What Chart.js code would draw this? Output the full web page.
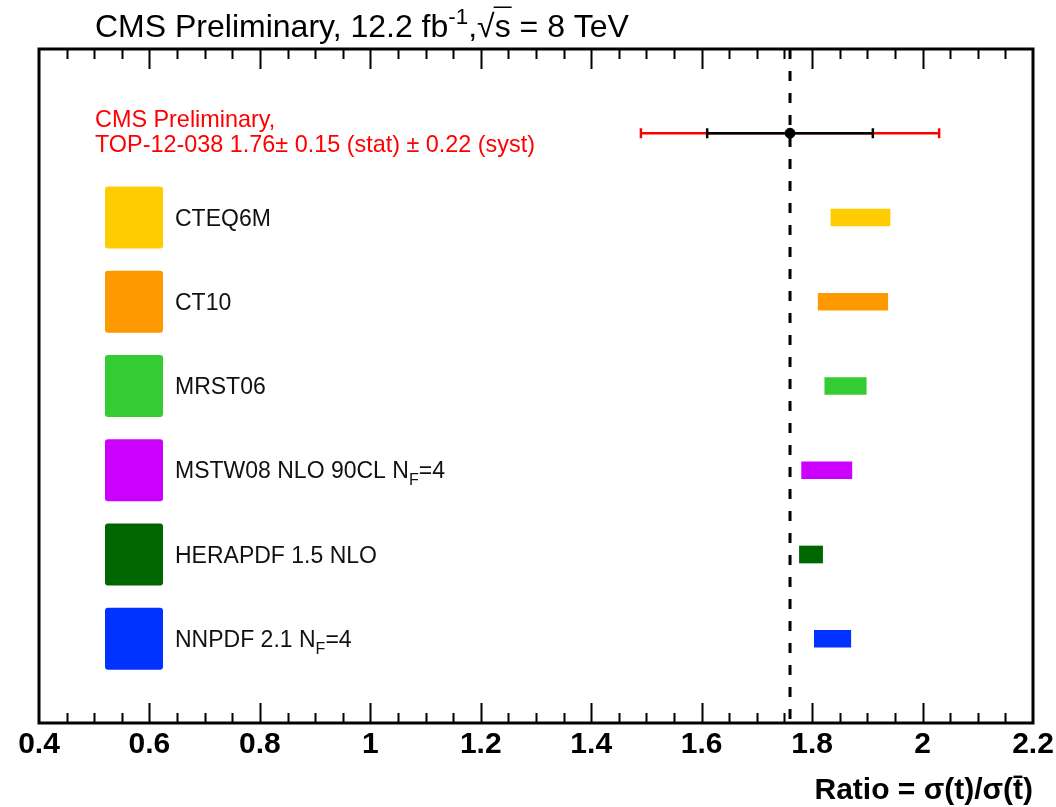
<!DOCTYPE html>
<html>
<head>
<meta charset="utf-8">
<title>Ratio sigma(t)/sigma(tbar)</title>
<script src="https://cdn.jsdelivr.net/npm/chart.js@4.4.0/dist/chart.umd.min.js"></script>
<style>
html, body { margin: 0; padding: 0; background: #fff; }
#wrap { width: 1056px; height: 807px; position: relative; }
</style>
</head>
<body>
<div id="wrap"><canvas id="chart"></canvas></div>
<script>
// PDF predictions (rows 1..6, top to bottom)
const models = ['CTEQ6M', 'CT10', 'MRST06', 'MSTW08 NLO 90CL N_{F}=4', 'HERAPDF 1.5 NLO', 'NNPDF 2.1 N_{F}=4'];
const modelLow = [1.834, 1.811, 1.823, 1.781, 1.777, 1.804];
const modelHigh = [1.941, 1.937, 1.898, 1.872, 1.819, 1.870];
const modelColors = ['#ffcc00', '#ff9900', '#33cc33', '#cc00ff', '#006600', '#0033ff'];

// measurement (row 0)
const measured = 1.76;
const statRange = [1.61, 1.91];
const totalRange = [1.49, 2.03];

// axis
const xMin = 0.4;
const xMax = 2.2;
const xStep = 0.2;
const xMinorStep = 0.05;

const FONT = '"Liberation Sans", Helvetica, Arial, sans-serif';

function drawRich(ctx, text, x, y, size, color) {
    const re = /([_^])\{([^}]*)\}/g;
    const parts = [];
    let last = 0, m;
    while ((m = re.exec(text))) {
        if (m.index > last) parts.push({ t: text.slice(last, m.index), k: '' });
        parts.push({ t: m[2], k: m[1] });
        last = re.lastIndex;
    }
    if (last < text.length) parts.push({ t: text.slice(last), k: '' });
    ctx.fillStyle = color;
    ctx.textAlign = 'left';
    ctx.textBaseline = 'alphabetic';
    for (const p of parts) {
        const s = p.k ? size * 0.7 : size;
        const dy = p.k === '_' ? size * 0.3 : (p.k === '^' ? -size * 0.42 : 0);
        ctx.font = `${s}px ${FONT}`;
        ctx.fillText(p.t, x, y + dy);
        x += ctx.measureText(p.t).width;
    }
    return x;
}

const rootFrame = {
    id: 'rootFrame',
    afterDraw(chart) {
        const { ctx, chartArea: a, scales } = chart;
        const xs = scales.x;
        ctx.save();
        ctx.strokeStyle = '#000';
        ctx.lineWidth = 2;
        const n = Math.round((xMax - xMin) / xMinorStep);
        for (let k = 1; k < n; k++) {
            const px = Math.round(xs.getPixelForValue(xMin + k * xMinorStep)) + 0.5;
            const len = k % Math.round(xStep / xMinorStep) === 0 ? 20 : 10;
            ctx.beginPath();
            ctx.moveTo(px, a.bottom);
            ctx.lineTo(px, a.bottom - len);
            ctx.moveTo(px, a.top);
            ctx.lineTo(px, a.top + len);
            ctx.stroke();
        }
        ctx.lineWidth = 3;
        ctx.strokeRect(a.left, a.top, a.right - a.left, a.bottom - a.top);
        ctx.restore();
    }
};

const annotations = {
    id: 'annotations',
    afterDraw(chart) {
        const { ctx, scales } = chart;
        const ys = scales.y;
        ctx.save();

        // header
        const hs = 32, hy = 37;
        let x = drawRich(ctx, 'CMS Preliminary, 12.2 fb^{-1},', 95, hy, hs, '#000');
        ctx.font = `${hs}px ${FONT}`;
        ctx.fillText('\u221A', x, hy);
        const rw = ctx.measureText('\u221A').width;
        const sw = ctx.measureText('s').width;
        ctx.fillText('s', x + rw, hy);
        ctx.strokeStyle = '#000';
        ctx.lineWidth = 1.5;
        ctx.beginPath();
        ctx.moveTo(x + rw - 1, hy - hs * 0.93);
        ctx.lineTo(x + rw + sw + 1, hy - hs * 0.93);
        ctx.stroke();
        drawRich(ctx, ' = 8 TeV', x + rw + sw, hy, hs, '#000');

        // measurement text
        drawRich(ctx, 'CMS Preliminary,', 95, 127, 23.4, '#ff0000');
        drawRich(ctx, 'TOP-12-038 1.76\u00B1 0.15 (stat) \u00B1 0.22 (syst)', 95, 152, 23.4, '#ff0000');

        // legend
        models.forEach((name, i) => {
            const cy = ys.getPixelForValue(i + 1);
            ctx.fillStyle = modelColors[i];
            ctx.beginPath();
            ctx.roundRect(105, cy - 31, 58, 62, 3);
            ctx.fill();
            drawRich(ctx, name, 175, cy + 8, 23, '#111');
        });
        ctx.restore();
    }
};

const ctx = document.getElementById('chart').getContext('2d');
new Chart(ctx, {
    type: 'bar',
    data: {
        datasets: [
            {
                label: 'measured',
                type: 'line',
                data: [{ x: measured, y: 0 }],
                showLine: false,
                pointStyle: 'circle',
                pointRadius: 5,
                pointBackgroundColor: '#000',
                pointBorderColor: '#000',
                order: 1
            },
            {
                label: 'stat',
                type: 'line',
                data: [{ x: statRange[0], y: 0 }, { x: statRange[1], y: 0 }],
                borderColor: '#000',
                borderWidth: 2.5,
                pointStyle: 'line',
                rotation: 90,
                pointRadius: 5,
                pointBorderColor: '#000',
                pointBorderWidth: 2.5,
                order: 2
            },
            {
                label: 'total',
                type: 'line',
                data: [{ x: totalRange[0], y: 0 }, { x: totalRange[1], y: 0 }],
                borderColor: '#ff0000',
                borderWidth: 2.5,
                pointStyle: 'line',
                rotation: 90,
                pointRadius: 5,
                pointBorderColor: '#ff0000',
                pointBorderWidth: 2.5,
                order: 3
            },
            {
                label: 'models',
                data: models.map((m, i) => ({ y: i + 1, x: [modelLow[i], modelHigh[i]] })),
                backgroundColor: modelColors,
                borderWidth: 0,
                borderSkipped: false,
                barThickness: 17,
                grouped: false,
                order: 4
            },
            {
                label: 'central',
                type: 'line',
                data: [{ x: measured, y: -1 }, { x: measured, y: 7 }],
                borderColor: '#000',
                borderWidth: 3,
                borderDash: [10, 12],
                pointRadius: 0,
                order: 5
            }
        ]
    },
    options: {
        indexAxis: 'y',
        responsive: true,
        maintainAspectRatio: false,
        animation: false,
        events: [],
        layout: { padding: { top: 49, left: 39, right: 23, bottom: 0 } },
        plugins: {
            legend: { display: false },
            tooltip: { enabled: false }
        },
        scales: {
            y: {
                type: 'linear',
                min: -1,
                max: 7,
                reverse: true,
                offset: false,
                display: false
            },
            x: {
                type: 'linear',
                position: 'bottom',
                min: xMin,
                max: xMax,
                beginAtZero: false,
                offset: false,
                grid: { display: false, drawTicks: false },
                border: { display: false },
                ticks: {
                    stepSize: xStep,
                    color: '#000',
                    padding: 4,
                    maxRotation: 0,
                    font: { family: FONT, size: 30, weight: 'bold' },
                    callback: (v) => String(Number(v.toFixed(1)))
                },
                title: {
                    display: true,
                    text: 'Ratio = \u03C3(t)/\u03C3(t\u0304)',
                    align: 'end',
                    color: '#000',
                    padding: { top: 0, bottom: 1 },
                    font: { family: FONT, size: 30, weight: 'bold', lineHeight: 1 }
                },
                afterFit(scale) {
                    scale.height = 84;
                    scale.paddingLeft = 0;
                    scale.paddingRight = 0;
                }
            }
        }
    },
    plugins: [rootFrame, annotations]
});
</script>
</body>
</html>
